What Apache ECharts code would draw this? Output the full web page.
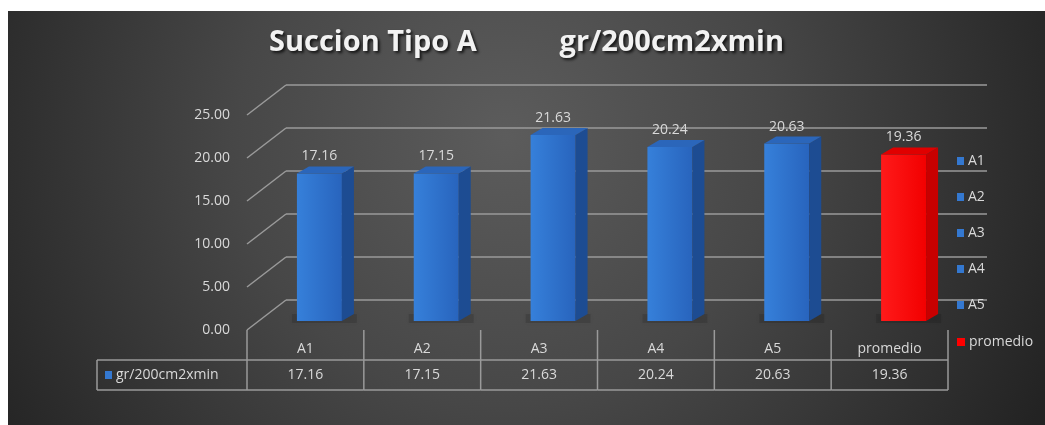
<!DOCTYPE html>
<html>
<head>
<meta charset="utf-8">
<script src="https://cdn.jsdelivr.net/npm/echarts@6/dist/echarts.min.js"></script>
<style>
  html, body { margin: 0; background: #ffffff; }
  #chart { position: absolute; left: 8px; top: 11px; width: 1037px; height: 414px; }
</style>
</head>
<body>
<div id="chart"></div>
<script>
// Chart data
const categories = ['A1', 'A2', 'A3', 'A4', 'A5', 'promedio'];
const values = [17.16, 17.15, 21.63, 20.24, 20.63, 19.36];
const yTicks = [0, 5, 10, 15, 20, 25];
const seriesLabel = 'gr/200cm2xmin';
const titleText = 'Succion Tipo A           gr/200cm2xmin';

// Pseudo-3D geometry (pixel offsets)
const WALL = { dx: 39, dy: -30 };   // back wall shift relative to the front plane
const FRONT = { dx: 14, dy: -9 };   // bar front face shift
const DEPTH = { dx: 12, dy: -7 };   // bar depth (side/top faces)
const TEXT = '#d9d9d9';
const LINE = '#9a9a9a';
const FONT = 'Open Sans, Liberation Sans, sans-serif';

const palettes = {
  blue: { front0: '#3680da', front1: '#2864bd', side: '#1d4c92', top: '#2b66ba', legend: '#3478d0' },
  red:  { front0: '#ff1a1a', front1: '#f20000', side: '#c80000', top: '#e00000', legend: '#ff0000' }
};

function barRenderer(pal) {
  return function (params, api) {
    const i = api.value(0), v = api.value(1);
    const base = api.coord([i, 0]);
    const top = api.coord([i, v]);
    const bw = api.size([1, 0])[0] * 0.385;
    const x0 = base[0] - bw / 2 + FRONT.dx, x1 = x0 + bw;
    const yb = base[1] + FRONT.dy, yt = top[1] + FRONT.dy;
    return {
      type: 'group',
      children: [
        { type: 'polygon',
          shape: { points: [[x0 - 5, yb + 2], [x1 + DEPTH.dx + 3, yb + 2], [x1 + DEPTH.dx + 3, yb + DEPTH.dy], [x0 - 5, yb + DEPTH.dy]] },
          style: { fill: 'rgba(0,0,0,0.12)', shadowBlur: 5, shadowColor: 'rgba(0,0,0,0.3)' } },
        { type: 'rect', shape: { x: x0, y: yt, width: bw, height: yb - yt },
          style: { fill: new echarts.graphic.LinearGradient(0, 0, 1, 0, [
            { offset: 0, color: pal.front0 }, { offset: 1, color: pal.front1 }]) } },
        { type: 'polygon',
          shape: { points: [[x1, yt], [x1 + DEPTH.dx, yt + DEPTH.dy], [x1 + DEPTH.dx, yb + DEPTH.dy], [x1, yb]] },
          style: { fill: pal.side } },
        { type: 'polygon',
          shape: { points: [[x0, yt], [x0 + DEPTH.dx, yt + DEPTH.dy], [x1 + DEPTH.dx, yt + DEPTH.dy], [x1, yt]] },
          style: { fill: pal.top } },
        { type: 'text',
          style: { text: v.toFixed(2), x: (x0 + x1) / 2, y: yt - 17, align: 'center', verticalAlign: 'middle',
                   fill: TEXT, font: '14px ' + FONT } }
      ]
    };
  };
}

// Back wall grid lines with the perspective diagonals on the left
function renderWall(params, api) {
  const cs = params.coordSys;
  const v = api.value(0);
  const y = api.coord([0, v])[1];
  return {
    type: 'group',
    children: [
      { type: 'line', shape: { x1: cs.x, y1: y, x2: cs.x + WALL.dx, y2: y + WALL.dy },
        style: { stroke: LINE, lineWidth: 1.5 } },
      { type: 'line', shape: { x1: cs.x + WALL.dx, y1: y + WALL.dy, x2: cs.x + cs.width + WALL.dx, y2: y + WALL.dy },
        style: { stroke: LINE, lineWidth: 1.5 } }
    ]
  };
}

// Data table under the category labels
function renderTable(params, api) {
  const cs = params.coordSys;
  const i = api.value(0), v = api.value(1);
  const c = api.coord([i, 0]);
  const w = api.size([1, 0])[0];
  const floor = c[1];
  const rowTop = floor + 30, rowBot = floor + 60;
  const left = c[0] - w / 2, right = c[0] + w / 2;
  const children = [
    { type: 'line', shape: { x1: left, y1: floor, x2: left, y2: rowBot }, style: { stroke: LINE, lineWidth: 1.5 } },
    { type: 'line', shape: { x1: left, y1: rowTop, x2: right, y2: rowTop }, style: { stroke: LINE, lineWidth: 1.5 } },
    { type: 'line', shape: { x1: left, y1: rowBot, x2: right, y2: rowBot }, style: { stroke: LINE, lineWidth: 1.5 } },
    { type: 'text', style: { text: v.toFixed(2), x: c[0], y: (rowTop + rowBot) / 2, align: 'center',
      verticalAlign: 'middle', fill: TEXT, font: '14px ' + FONT } }
  ];
  if (i === values.length - 1) {
    children.push({ type: 'line', shape: { x1: right, y1: floor, x2: right, y2: rowBot }, style: { stroke: LINE, lineWidth: 1.5 } });
  }
  if (i === 0) {
    const hx = cs.x - 150;
    children.push(
      { type: 'line', shape: { x1: hx, y1: rowTop, x2: left, y2: rowTop }, style: { stroke: LINE, lineWidth: 1.5 } },
      { type: 'line', shape: { x1: hx, y1: rowBot, x2: left, y2: rowBot }, style: { stroke: LINE, lineWidth: 1.5 } },
      { type: 'line', shape: { x1: hx, y1: rowTop, x2: hx, y2: rowBot }, style: { stroke: LINE, lineWidth: 1.5 } },
      { type: 'rect', shape: { x: hx + 8, y: (rowTop + rowBot) / 2 - 4, width: 7, height: 8 },
        style: { fill: palettes.blue.legend } },
      { type: 'text', style: { text: seriesLabel, x: hx + 19, y: (rowTop + rowBot) / 2, align: 'left',
        verticalAlign: 'middle', fill: TEXT, font: '14px ' + FONT } }
    );
  }
  return { type: 'group', children: children };
}

const barSeries = categories.map((name, i) => {
  const pal = name === 'promedio' ? palettes.red : palettes.blue;
  return {
    name: name,
    type: 'custom',
    z: 5,
    clip: false,
    itemStyle: { color: pal.legend },
    renderItem: barRenderer(pal),
    data: [[i, values[i]]]
  };
});

const chart = echarts.init(document.getElementById('chart'), null, { renderer: 'canvas' });
chart.setOption({
  animation: false,
  backgroundColor: {
    type: 'radial', x: 0.48, y: 0.3, r: 1.45,
    colorStops: [
      { offset: 0, color: '#5c5c5c' },
      { offset: 0.45, color: '#474747' },
      { offset: 1, color: '#232323' }
    ]
  },
  title: {
    text: titleText,
    left: 'center',
    top: 12,
    textStyle: {
      color: '#f2f2f2', fontSize: 29, fontWeight: 'bold', fontFamily: FONT,
      textShadowColor: 'rgba(0,0,0,0.75)', textShadowBlur: 3, textShadowOffsetX: 2, textShadowOffsetY: 2
    }
  },
  legend: [
    {
      data: categories.slice(0, 5),
      orient: 'vertical',
      left: 944, top: 138,
      itemWidth: 7, itemHeight: 8, itemGap: 22,
      icon: 'rect',
      textStyle: { color: TEXT, fontSize: 14, fontFamily: FONT, padding: [0, 0, 0, -1] },
      selectedMode: false
    },
    {
      data: ['promedio'],
      orient: 'vertical',
      left: 944, top: 319,
      itemWidth: 8, itemHeight: 8,
      icon: 'rect',
      textStyle: { color: TEXT, fontSize: 14, fontFamily: FONT, padding: [0, 0, 0, -1] },
      selectedMode: false
    }
  ],
  grid: { left: 239, top: 104, width: 701, height: 215 },
  xAxis: {
    type: 'category',
    data: categories,
    axisLine: { show: false },
    axisTick: { show: false },
    axisLabel: { color: TEXT, fontSize: 14, fontFamily: FONT, margin: 12 }
  },
  yAxis: {
    type: 'value',
    min: 0, max: 25, interval: 5,
    axisLine: { show: false },
    axisTick: { show: false },
    splitLine: { show: false },
    axisLabel: { color: TEXT, fontSize: 14, fontFamily: FONT, margin: 17, formatter: v => v.toFixed(2) }
  },
  series: [
    {
      name: 'wall', type: 'custom', z: 1, clip: false, silent: true,
      renderItem: renderWall,
      data: yTicks.map(v => [v])
    },
    {
      name: seriesLabel, type: 'custom', z: 2, clip: false, silent: true,
      renderItem: renderTable,
      data: values.map((v, i) => [i, v])
    }
  ].concat(barSeries)
});
</script>
</body>
</html>
